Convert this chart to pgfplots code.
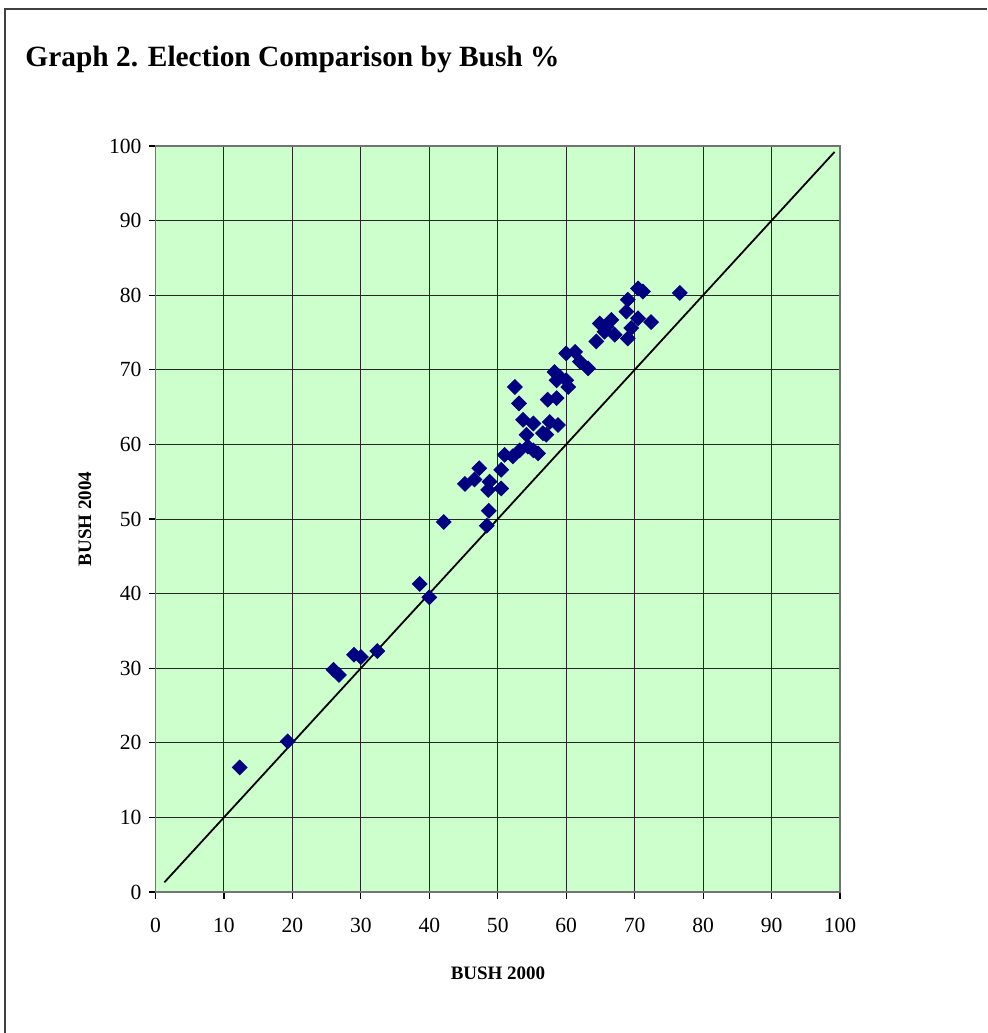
\documentclass[border=0pt]{standalone}
\usepackage{fontspec}
\setmainfont{Liberation Serif}
\usepackage{pgfplots}
\pgfplotsset{compat=1.18}
\definecolor{bggreen}{RGB}{204,255,204}
\definecolor{navyblue}{RGB}{0,0,128}
\begin{document}
\begin{tikzpicture}
\useasboundingbox (0,0) rectangle (493.5pt,-516.5pt);
\draw[black!75, line width=0.7pt] (2.5pt,-516.5pt) -- (2.5pt,-4.5pt) -- (493.5pt,-4.5pt);
\node[anchor=base west, inner sep=0pt, font=\fontsize{14.7}{16}\selectfont\bfseries] at (12.5pt,-33pt) {Graph 2. Election Comparison by Bush \%};
\begin{axis}[
  at={(77.75pt,-446pt)}, anchor=south west,
  width=342.25pt, height=373pt, scale only axis,
  xmin=0, xmax=100, ymin=0, ymax=100,
  xtick={0,10,...,100}, ytick={0,10,...,100},
  tick pos=left,
  grid=major,
  major grid style={black!85, line width=0.5pt},
  axis background/.style={fill=bggreen},
  tick align=outside, major tick length=3.5pt,
  tick style={black, line width=0.6pt},
  axis line style={black!55, line width=0.7pt},
  /pgf/number format/assume math mode=true,
  ticklabel style={font=\fontsize{10.8}{12}\selectfont},
  xticklabel style={yshift=-6pt},
  clip=false,
]
\addplot[black, line width=0.9pt, no marks] coordinates {(1.3,1.3) (99.2,99.2)};
\addplot[only marks, mark=square*, mark size=2.6pt, mark options={rotate=45, fill=navyblue, draw=navyblue}] coordinates {
(12.3,16.7) (19.3,20.2) (26.0,29.8) (26.8,29.1) (29.0,31.8) (30.0,31.5)
(32.4,32.3) (38.6,41.3) (40.0,39.5) (42.1,49.6) (48.7,51.1) (48.4,49.1)
(45.2,54.7) (46.6,55.3) (47.3,56.8) (48.8,55.0) (48.6,53.9) (50.5,54.1)
(50.5,56.6) (51.0,58.6) (52.2,58.4) (53.2,59.2) (54.4,59.7) (55.2,59.2)
(55.9,58.8) (54.2,61.3) (53.7,63.3) (55.2,62.8) (56.6,61.5) (57.1,61.3)
(57.6,63.0) (58.8,62.6) (52.5,67.7) (53.1,65.5) (57.3,66.0) (58.6,66.2)
(58.3,69.7) (59.0,69.1) (60.0,68.6) (60.3,67.7) (58.6,68.6) (60.0,72.2)
(61.3,72.4) (62.0,71.1) (63.2,70.2) (64.4,73.8) (64.9,76.2) (65.9,75.8)
(66.6,76.7) (67.1,74.7) (65.6,75.1) (69.0,74.2) (69.5,75.6) (70.5,76.9)
(72.4,76.4) (68.8,77.8) (69.0,79.4) (70.5,80.9) (71.2,80.5) (76.6,80.3)
};
\end{axis}
\node[font=\fontsize{9.5}{11}\selectfont\bfseries] at (249pt,-486.5pt) {BUSH 2000};
\node[font=\fontsize{9.5}{11}\selectfont\bfseries, rotate=90] at (42.5pt,-259.5pt) {BUSH 2004};
\end{tikzpicture}
\end{document}
